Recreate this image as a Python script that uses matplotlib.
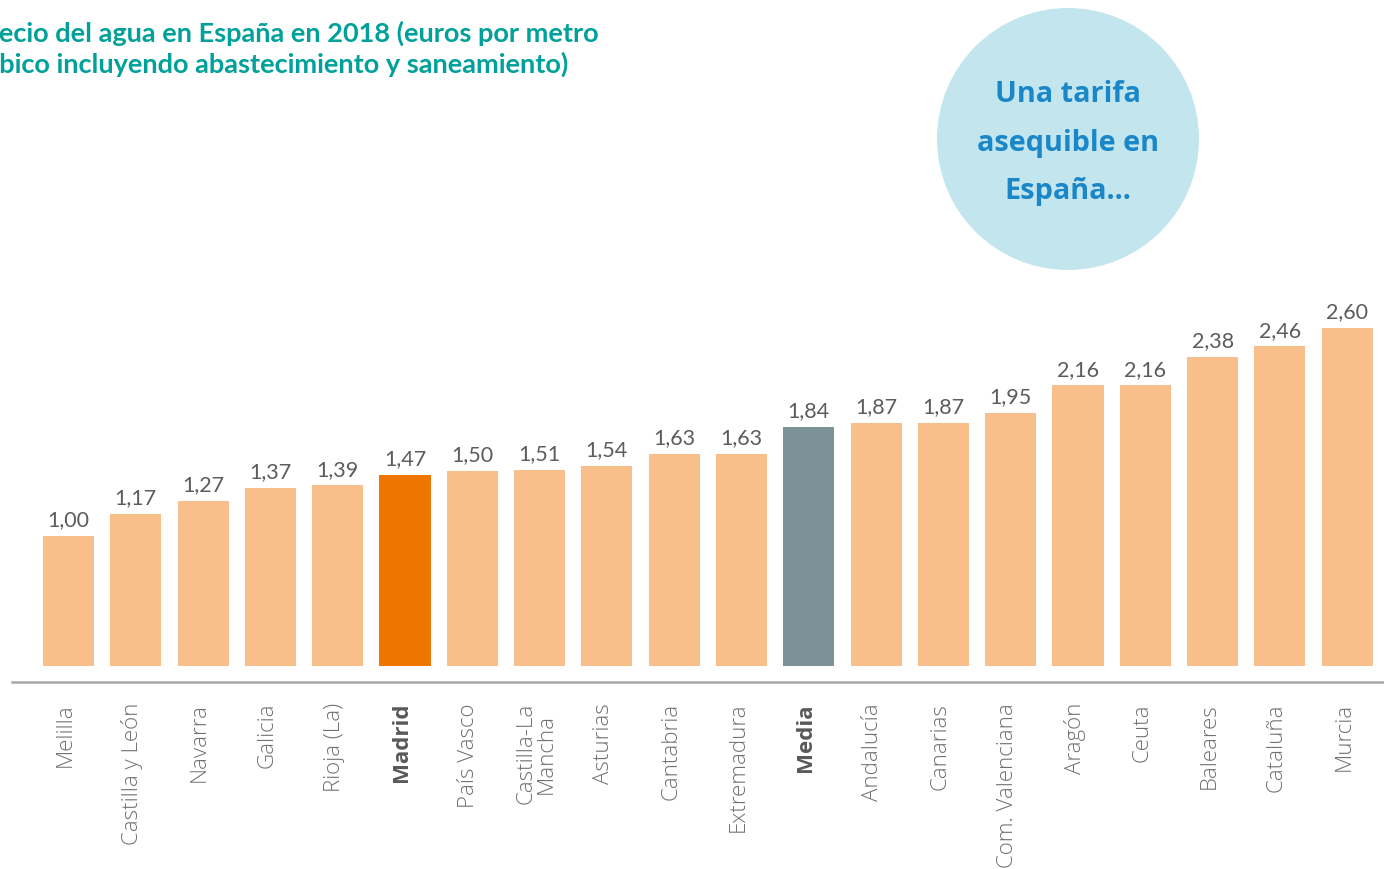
import matplotlib.pyplot as plt
import matplotlib.patches as mpatches
from matplotlib.lines import Line2D

# precio del agua por comunidad, 2018 (euros/m3)
regiones = ["Melilla", "Castilla y León", "Navarra", "Galicia", "Rioja (La)",
            "Madrid", "País Vasco", "Castilla-La\nMancha", "Asturias", "Cantabria",
            "Extremadura", "Media", "Andalucía", "Canarias", "Com. Valenciana",
            "Aragón", "Ceuta", "Baleares", "Cataluña", "Murcia"]
precios = [1.00, 1.17, 1.27, 1.37, 1.39, 1.47, 1.50, 1.51, 1.54, 1.63,
           1.63, 1.84, 1.87, 1.87, 1.95, 2.16, 2.16, 2.38, 2.46, 2.60]
destacados = {"Madrid": "#ee7600", "Media": "#7b9297"}
titulo = [("Pr", "ecio del agua en España en 2018 (euros por metro"),
          ("cú", "bico incluyendo abastecimiento y saneamiento)")]

W, H = 1384, 869
fig = plt.figure(figsize=(W / 100, H / 100), dpi=100)
fig.patch.set_facecolor("white")

# axes: bottom edge at the bar base, full width
base_px = 666
ax = fig.add_axes([0, (H - base_px) / H, 1, base_px / H])
paso, x0 = 67.3, 68.5
ax.set_xlim(-x0 / paso, (W - x0) / paso)
ax.set_ylim(0, base_px / 130.0)
ax.axis("off")

colores = [destacados.get(r, "#f9bf8b") for r in regiones]
xs = list(range(len(regiones)))
ax.bar(xs, precios, width=0.758, color=colores, linewidth=0)

for x, v in zip(xs, precios):
    ax.annotate(f"{v:.2f}".replace(".", ","), (x, v), xytext=(0, 4),
                textcoords="offset points", ha="center", va="bottom",
                fontsize=15.5, color="#5b5c60", family="Lato")

# etiquetas de las regiones
for x, r in zip(xs, regiones):
    bold = r in destacados
    ax.text(x - 0.05, -37 / 130.0, r, rotation=90, ha="center", va="top",
            fontsize=16, color="#58595b" if bold else "#6f7074",
            family="Open Sans", fontweight="bold" if bold else "light",
            linespacing=0.95, clip_on=False)

# linea base
fig.add_artist(Line2D([12 / W, 1], [(H - 682) / H] * 2, color="#a8a8a8", lw=1.8))

# titulo, cortado por el borde izquierdo
teal = "#00a19a"
renderer = fig.canvas.get_renderer()
for (pre, resto), ty in zip(titulo, [42, 73]):
    tmp = fig.text(0, 0, pre, fontsize=19.5, fontweight="bold", family="Lato")
    ancho = tmp.get_window_extent(renderer).width
    tmp.remove()
    fig.text(-(ancho + 1) / W, (H - ty) / H, pre + resto, ha="left", va="baseline",
             fontsize=19.5, fontweight="bold", color=teal, family="Lato")

# circulo
cx, cy, rad = 1068, 139, 131
fig.add_artist(mpatches.Ellipse((cx / W, (H - cy) / H), 2 * rad / W, 2 * rad / H,
                                transform=fig.transFigure, color="#c3e5ee", lw=0))
for texto, ty in [("Una tarifa", 95), ("asequible en", 143), ("España...", 191)]:
    fig.text(cx / W, (H - ty) / H, texto, ha="center", va="center",
             fontsize=20.8, fontweight="bold", color="#1a87c8", family="Open Sans")

fig.savefig("out.png", dpi=100)
